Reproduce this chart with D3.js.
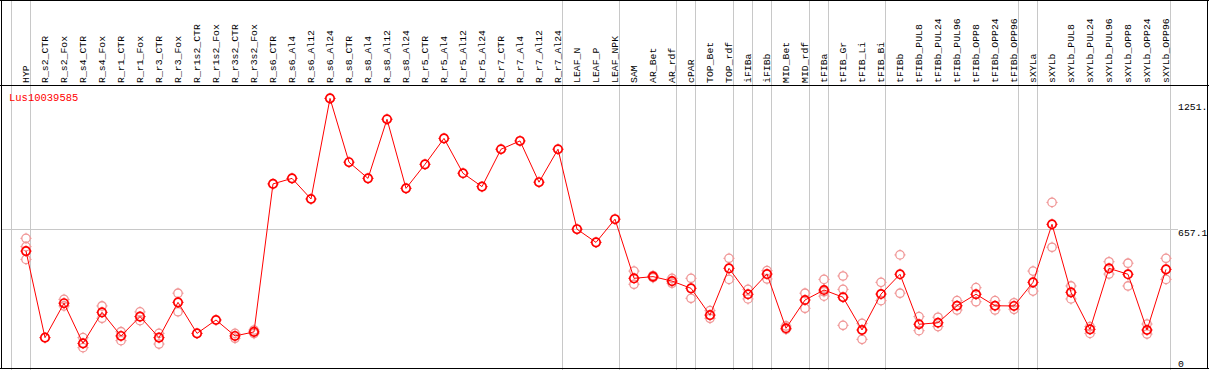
<!DOCTYPE html>
<html>
<head>
<meta charset="utf-8">
<script src="https://cdn.jsdelivr.net/npm/d3@7/dist/d3.min.js"></script>
<style>
html,body{margin:0;padding:0;background:#fff;}
svg{display:block;}
text{font-family:"Liberation Mono","DejaVu Sans Mono",monospace;}
</style>
</head>
<body>
<svg id="chart" width="1209" height="370"></svg>
<script>
const title = "Lus10039585";
const categories = ["HYP","R_s2_CTR","R_s2_Fox","R_s4_CTR","R_s4_Fox","R_r1_CTR","R_r1_Fox","R_r3_CTR","R_r3_Fox","R_r1s2_CTR","R_r1s2_Fox","R_r3s2_CTR","R_r3s2_Fox","R_s6_CTR","R_s6_Al4","R_s6_Al12","R_s6_Al24","R_s8_CTR","R_s8_Al4","R_s8_Al12","R_s8_Al24","R_r5_CTR","R_r5_Al4","R_r5_Al12","R_r5_Al24","R_r7_CTR","R_r7_Al4","R_r7_Al12","R_r7_Al24","LEAF_N","LEAF_P","LEAF_NPK","SAM","AR_Bet","AR_rdf","cPAR","TOP_Bet","TOP_rdf","iFIBa","iFIBb","MID_Bet","MID_rdf","tFIBa","tFIB_Gr","tFIB_Li","tFIB_Bi","tFIBb","tFIBb_PUL8","tFIBb_PUL24","tFIBb_PUL96","tFIBb_OPP8","tFIBb_OPP24","tFIBb_OPP96","sXYLa","sXYLb","sXYLb_PUL8","sXYLb_PUL24","sXYLb_PUL96","sXYLb_OPP8","sXYLb_OPP24","sXYLb_OPP96"];
const means = [553,146,308,119,265,154,245,146,312,166,229,154,173,869,895,798,1271,971,895,1173,848,961,1083,919,856,1032,1071,877,1032,656,594,703,425,433,412,378,252,472,350,445,190,323,370,336,182,351,444,209,216,296,350,296,295,406,679,359,185,472,444,182,467];
const replicates = [[613,574,514],[],[326,295],[146,99],[295,237],[174,132],[267,226],[166,116],[355,268],[],[],[166,143],[182,165],[],[],[],[],[],[],[],[],[],[],[],[],[],[],[],[],[],[],[],[459,397],[428,438],[425,402],[425,331],[273,237],[519,420],[373,328],[461,422],[201,185],[355,284],[420,362,341],[436,373,204],[213,138],[406,320],[535,355],[245,179],[242,198],[320,276],[381,315],[320,276],[310,279],[459,365],[782,571],[389,328],[198,166],[503,445],[496,389],[210,163],[519,420]];
const groupBreaks = ["HYP","R_r7_Al24","LEAF_NPK","AR_rdf","cPAR","TOP_rdf","iFIBa","iFIBb","MID_rdf","tFIBa","tFIB_Bi","tFIBb_OPP96","sXYLa","sXYLb_OPP96"];
const yTicks = [0, 657.1, 1251.2];
const yTickLabels = ["0", "657.1", "1251."];
const gridValues = [657.1];

const W = 1209, H = 370;
const svg = d3.select("#chart");
const x = d3.scaleBand().domain(categories).range([11, 1170]).paddingInner(0).paddingOuter(0);
const px = c => x(c) + 15;
const y = d3.scaleLinear().domain([0, 1334]).range([368.7, 85]);
const red = "#ff0000", pink = "rgb(240,150,150)", grey = "#c8c8c8";

// horizontal gridline
svg.selectAll("line.hg").data(gridValues).join("line")
  .attr("x1", 1).attr("x2", 1178).attr("y1", d => Math.round(y(d)) + 0.5).attr("y2", d => Math.round(y(d)) + 0.5)
  .attr("stroke", grey).attr("stroke-width", 1);

// vertical group separators
const sepX = [x(categories[0])].concat(groupBreaks.map(c => x(c) + x.bandwidth()));
svg.selectAll("line.vg").data(sepX).join("line")
  .attr("x1", d => Math.round(d) + 0.5).attr("x2", d => Math.round(d) + 0.5)
  .attr("y1", 0).attr("y2", H).attr("stroke", grey).attr("stroke-width", 1);

// frame
svg.append("line").attr("x1",0).attr("x2",W).attr("y1",0.5).attr("y2",0.5).attr("stroke","#000");
svg.append("line").attr("x1",0).attr("x2",W).attr("y1",85.5).attr("y2",85.5).attr("stroke","#000");
svg.append("line").attr("x1",0).attr("x2",W).attr("y1",368.5).attr("y2",368.5).attr("stroke","#000");
svg.append("line").attr("x1",1.5).attr("x2",1.5).attr("y1",0).attr("y2",369).attr("stroke","#000");
svg.append("line").attr("x1",1207.5).attr("x2",1207.5).attr("y1",0).attr("y2",369).attr("stroke","#000");

// column labels
svg.selectAll("text.cl").data(categories).join("text")
  .attr("transform", d => `translate(${px(d) + 3},83) rotate(-90)`)
  .attr("text-anchor", "start").attr("font-size", "9.8px").attr("fill", "#000")
  .text(d => d);

// title
svg.append("text").attr("x", 9).attr("y", 101).attr("font-size", "10.5px").attr("fill", red).text(title);

// y tick labels
svg.append("g").selectAll("text").data(yTicks).join("text")
  .attr("x", 1178)
  .attr("y", d => d === 0 ? 367 : y(d) + 7.5)
  .attr("font-size", "9.8px").attr("fill", "#000")
  .text((d,i) => yTickLabels[i]);

function marker(g, color, sw){
  g.append("circle").attr("r", 4.2).attr("fill","none").attr("stroke", color).attr("stroke-width", sw);
  g.append("path").attr("d","M0,-4V-5.6M0,4V5.6M-4,0H-5.6M4,0H5.6").attr("stroke", color).attr("stroke-width", 1);
}

// replicates
const repPts = [];
replicates.forEach((arr, i) => arr.forEach(v => repPts.push({c: categories[i], v})));
svg.selectAll("g.rep").data(repPts).join("g")
  .attr("transform", d => `translate(${px(d.c)},${y(d.v)})`)
  .each(function(){ marker(d3.select(this), pink, 1.3); });

// mean line
const line = d3.line().x((d,i) => px(categories[i])).y(d => y(d));
svg.append("path").datum(means).attr("d", line).attr("fill","none").attr("stroke", red).attr("stroke-width", 1);

// mean markers
svg.selectAll("g.mean").data(means).join("g")
  .attr("transform", (d,i) => `translate(${px(categories[i])},${y(d)})`)
  .each(function(){ marker(d3.select(this), red, 1.7); });
</script>
</body>
</html>
